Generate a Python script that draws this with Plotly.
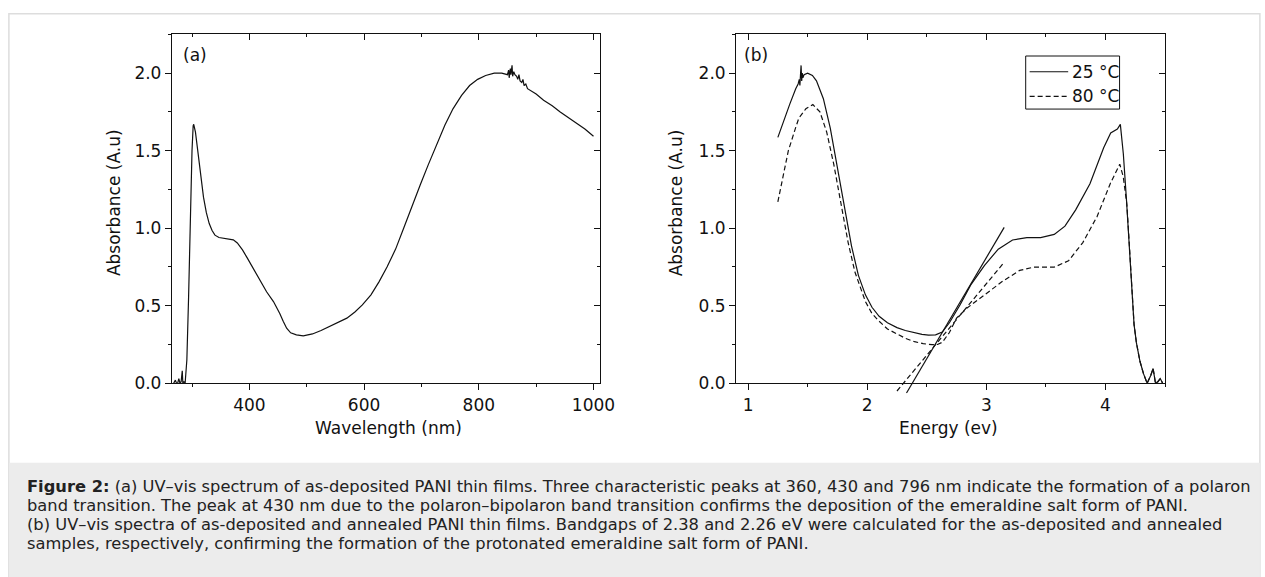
import plotly.graph_objects as go

W, H = 1265, 577

# ---------------- data: panel (a) ----------------
wavelength_nm = [268, 271, 273, 275, 277, 279, 281, 283, 284, 286, 288, 291, 294, 297, 300, 302, 303,
                 306, 310, 315, 320, 325, 330, 335, 340, 347, 355, 365, 372, 379, 388, 396, 408,
                 419, 430, 442, 448, 453, 459, 465, 472, 482, 494, 510, 525, 540, 555, 570, 584,
                 597, 612, 626, 640, 655, 669, 683, 698, 712, 727, 741, 755, 770, 784, 798, 812,
                 827, 840, 850, 852, 853, 855, 856, 858, 859, 861, 863, 866, 868, 870, 872, 875,
                 877, 879, 882, 885, 890, 900, 913, 928, 942, 956, 971, 985, 1000]
absorbance_a = [0.00, 0.02, 0.00, 0.00, 0.03, 0.00, 0.01, 0.08, 0.00, 0.01, 0.00, 0.15, 0.55, 1.05, 1.50, 1.66, 1.67,
                1.62, 1.50, 1.34, 1.20, 1.10, 1.03, 0.985, 0.955, 0.94, 0.935, 0.93, 0.925, 0.905, 0.86, 0.81, 0.73,
                0.655, 0.59, 0.527, 0.49, 0.45, 0.40, 0.355, 0.325, 0.312, 0.306, 0.318, 0.34, 0.365, 0.39, 0.42, 0.46,
                0.505, 0.57, 0.654, 0.75, 0.865, 1.00, 1.14, 1.28, 1.41, 1.545, 1.665, 1.77, 1.857, 1.92, 1.96, 1.985,
                2.00, 2.00, 1.99, 2.02, 1.97, 2.03, 1.99, 2.05, 1.98, 2.01, 1.99, 1.98, 1.96, 1.99, 1.95, 1.94,
                1.96, 1.92, 1.93, 1.90, 1.89, 1.865, 1.825, 1.79, 1.75, 1.715, 1.677, 1.64, 1.593]

# ---------------- data: panel (b) ----------------
energy_25 = [1.25, 1.30, 1.35, 1.40, 1.42, 1.43, 1.435, 1.44, 1.445, 1.45, 1.455, 1.46, 1.47, 1.50, 1.54,
             1.574, 1.632, 1.69, 1.75, 1.81, 1.868, 1.926, 1.985, 2.04, 2.10, 2.17, 2.25, 2.32, 2.397, 2.46,
             2.515, 2.574, 2.63, 2.69, 2.78, 2.868, 2.985, 3.10, 3.22, 3.34, 3.456, 3.57, 3.66, 3.75, 3.87,
             3.985, 4.044, 4.07, 4.10, 4.125, 4.15, 4.175, 4.20, 4.22, 4.24, 4.26, 4.29, 4.32, 4.35, 4.38,
             4.40, 4.42, 4.44, 4.46, 4.48]
abs_25 = [1.586, 1.70, 1.80, 1.90, 1.93, 1.96, 1.92, 1.99, 2.05, 1.95, 2.00, 1.97, 1.99, 2.00, 1.985,
          1.95, 1.835, 1.646, 1.39, 1.14, 0.886, 0.696, 0.57, 0.49, 0.432, 0.39, 0.359, 0.34, 0.325, 0.315,
          0.31, 0.312, 0.33, 0.39, 0.506, 0.633, 0.76, 0.865, 0.924, 0.939, 0.939, 0.96, 1.013, 1.118, 1.287,
          1.519, 1.614, 1.625, 1.64, 1.67, 1.48, 1.20, 0.90, 0.60, 0.38, 0.26, 0.14, 0.06, 0.00, 0.05,
          0.095, 0.00, 0.01, 0.03, 0.00]

energy_80 = [1.25, 1.338, 1.40, 1.426, 1.485, 1.544, 1.603, 1.66, 1.72, 1.78, 1.84, 1.897, 1.985, 2.04,
             2.10, 2.17, 2.25, 2.32, 2.397, 2.47, 2.544, 2.59, 2.63, 2.69, 2.75, 2.838, 2.985, 3.13, 3.28,
             3.40, 3.57, 3.69, 3.81, 3.93, 4.04, 4.09, 4.12, 4.15, 4.18, 4.20, 4.22, 4.24, 4.26, 4.29,
             4.32, 4.35, 4.38, 4.40, 4.42, 4.44, 4.46, 4.48]
abs_80 = [1.17, 1.50, 1.65, 1.71, 1.77, 1.797, 1.75, 1.62, 1.41, 1.16, 0.907, 0.717, 0.527, 0.45,
          0.40, 0.35, 0.316, 0.29, 0.268, 0.255, 0.249, 0.25, 0.264, 0.327, 0.42, 0.485, 0.57, 0.654, 0.728,
          0.749, 0.749, 0.79, 0.907, 1.076, 1.287, 1.37, 1.413, 1.33, 1.15, 0.90, 0.60, 0.38, 0.26, 0.14,
          0.06, 0.00, 0.05, 0.095, 0.00, 0.01, 0.03, 0.00]

tangent_25_E = [2.33, 3.15]
tangent_25_A = [-0.063, 1.005]
tangent_80_E = [2.25, 3.15]
tangent_80_A = [-0.05, 0.78]

series_names = ["25 °C", "80 °C"]
x_ticks_a = [400, 600, 800, 1000]
x_ticks_b = [1, 2, 3, 4]
y_ticks = [0.0, 0.5, 1.0, 1.5, 2.0]

# ---------------- layout geometry (pixels) ----------------
def fx(px):
    return px / W

def fy(py):
    return 1 - py / H

TOP, BOT = 35, 390
A_L, A_R = 174, 607
B_L, B_R = 745, 1179
Y_RANGE = [0, 2.25]
XA_RANGE = [265, 1011]
XB_RANGE = [0.9, 4.5]
px_per_unit = (BOT - TOP) / (Y_RANGE[1] - Y_RANGE[0])
EXT = 0.1  # extra room below zero for the tangent lines

FONT = "DejaVu Sans, Liberation Sans, Arial, sans-serif"
LC = "#111111"
LW = 1.2
FS = 17
CAP_FS = 16.3
DASH = "5px,3px"

fig = go.Figure()

fig.add_trace(go.Scatter(x=wavelength_nm, y=absorbance_a, mode="lines",
                         line=dict(color=LC, width=LW), xaxis="x", yaxis="y",
                         showlegend=False, hoverinfo="skip"))
fig.add_trace(go.Scatter(x=energy_25, y=abs_25, mode="lines", name=series_names[0],
                         line=dict(color=LC, width=LW), xaxis="x2", yaxis="y2",
                         showlegend=False, hoverinfo="skip"))
fig.add_trace(go.Scatter(x=energy_80, y=abs_80, mode="lines", name=series_names[1],
                         line=dict(color=LC, width=LW, dash=DASH), xaxis="x2", yaxis="y2",
                         showlegend=False, hoverinfo="skip"))
# mirror axes (top / right, inward ticks)
fig.add_trace(go.Scatter(x=[None], y=[None], xaxis="x3", yaxis="y3", showlegend=False, hoverinfo="skip"))
fig.add_trace(go.Scatter(x=[None], y=[None], xaxis="x4", yaxis="y4", showlegend=False, hoverinfo="skip"))
# tangent lines (extend a bit below the axis)
fig.add_trace(go.Scatter(x=tangent_25_E, y=tangent_25_A, mode="lines",
                         line=dict(color=LC, width=LW), xaxis="x5", yaxis="y5",
                         showlegend=False, hoverinfo="skip"))
fig.add_trace(go.Scatter(x=tangent_80_E, y=tangent_80_A, mode="lines",
                         line=dict(color=LC, width=LW, dash=DASH), xaxis="x5", yaxis="y5",
                         showlegend=False, hoverinfo="skip"))

tickfont = dict(family=FONT, size=FS, color="#111")

def base_axis(**kw):
    d = dict(showgrid=False, zeroline=False, showline=True, linecolor=LC, linewidth=LW,
             ticks="outside", ticklen=6, tickwidth=LW, tickcolor=LC, tickfont=tickfont)
    d.update(kw)
    return d

def mirror_axis(**kw):
    d = dict(showgrid=False, zeroline=False, showline=True, linecolor=LC, linewidth=LW,
             ticks="inside", ticklen=6, tickwidth=LW, tickcolor=LC, showticklabels=False)
    d.update(kw)
    return d

def minor(dt, where):
    return dict(dtick=dt, tick0=0, ticks=where, ticklen=3, tickwidth=LW, tickcolor=LC)

ydom = [fy(BOT), fy(TOP)]

fig.update_layout(
    width=W, height=H,
    margin=dict(l=0, r=0, t=0, b=0),
    paper_bgcolor="white", plot_bgcolor="rgba(0,0,0,0)",
    font=dict(family=FONT, color="#111"),
    showlegend=False,
    xaxis=base_axis(domain=[fx(A_L), fx(A_R)], anchor="y", range=XA_RANGE,
                    tickvals=x_ticks_a, minor=minor(100, "outside")),
    yaxis=base_axis(domain=ydom, anchor="x", range=Y_RANGE, tickvals=y_ticks, tickformat=".1f",
                    minor=minor(0.25, "outside")),
    xaxis2=base_axis(domain=[fx(B_L), fx(B_R)], anchor="y2", range=XB_RANGE,
                     tickvals=x_ticks_b, minor=minor(0.5, "outside")),
    yaxis2=base_axis(domain=ydom, anchor="x2", range=Y_RANGE, tickvals=y_ticks, tickformat=".1f",
                     minor=minor(0.25, "outside")),
    xaxis3=mirror_axis(overlaying="x", side="top", anchor="y3", range=XA_RANGE, tickvals=x_ticks_a,
                       minor=minor(100, "inside")),
    yaxis3=mirror_axis(overlaying="y", side="right", anchor="x3", range=Y_RANGE, tickvals=y_ticks,
                       minor=minor(0.25, "inside")),
    xaxis4=mirror_axis(overlaying="x2", side="top", anchor="y4", range=XB_RANGE, tickvals=x_ticks_b,
                       minor=minor(0.5, "inside")),
    yaxis4=mirror_axis(overlaying="y2", side="right", anchor="x4", range=Y_RANGE, tickvals=y_ticks,
                       minor=minor(0.25, "inside")),
    xaxis5=dict(domain=[fx(B_L), fx(B_R)], anchor="y5", range=XB_RANGE, visible=False),
    yaxis5=dict(domain=[fy(BOT + EXT * px_per_unit), fy(TOP)], anchor="x5",
                range=[Y_RANGE[0] - EXT, Y_RANGE[1]], visible=False),
)

# legend geometry (pixels)
LEG_L, LEG_R, LEG_T, LEG_B = 1038, 1133, 57, 111
LEG_ROWS = [73, 98]
LEG_LINE = (1042, 1081)

shapes = [
    # outer frame
    dict(type="rect", xref="paper", yref="paper", x0=fx(9), x1=fx(1275), y0=fy(600), y1=fy(14),
         line=dict(color="#dddddd", width=1.5), fillcolor="rgba(0,0,0,0)", layer="below"),
    # caption box
    dict(type="rect", xref="paper", yref="paper", x0=fx(9.5), x1=fx(1275), y0=fy(600), y1=fy(471),
         line=dict(width=0), fillcolor="#ececec", layer="below"),
    # legend box
    dict(type="rect", xref="paper", yref="paper", x0=fx(LEG_L), x1=fx(LEG_R), y0=fy(LEG_B), y1=fy(LEG_T),
         line=dict(color=LC, width=1), fillcolor="white", layer="above"),
]
for i, row in enumerate(LEG_ROWS):
    shapes.append(dict(type="line", xref="paper", yref="paper",
                       x0=fx(LEG_LINE[0]), x1=fx(LEG_LINE[1]), y0=fy(row), y1=fy(row),
                       line=dict(color=LC, width=LW, dash="solid" if i == 0 else DASH)))
fig.update_layout(shapes=shapes)

annotations = [
    dict(text="(a)", x=fx(183), y=fy(56), xanchor="left", yanchor="middle"),
    dict(text="(b)", x=fx(751), y=fy(56), xanchor="left", yanchor="middle"),
    dict(text="Absorbance (A.u)", x=fx(116), y=fy(206), textangle=-90, xanchor="center", yanchor="middle"),
    dict(text="Absorbance (A.u)", x=fx(685), y=fy(206), textangle=-90, xanchor="center", yanchor="middle"),
    dict(text="Wavelength (nm)", x=fx(393), y=fy(436), xanchor="center", yanchor="middle"),
    dict(text="Energy (ev)", x=fx(960), y=fy(436), xanchor="center", yanchor="middle"),
]
for row, name in zip(LEG_ROWS, series_names):
    annotations.append(dict(text=name, x=fx(1083), y=fy(row), xanchor="left", yanchor="middle"))
for a in annotations:
    a.update(xref="paper", yref="paper", showarrow=False,
             font=dict(family=FONT, size=FS, color="#111"))

caption_lines = [
    "<b>Figure 2:</b> (a) UV–vis spectrum of as-deposited PANI thin films. Three characteristic peaks at 360, 430 and 796 nm indicate the formation of a polaron",
    "band transition. The peak at 430 nm due to the polaron–bipolaron band transition confirms the deposition of the emeraldine salt form of PANI.",
    "(b) UV–vis spectra of as-deposited and annealed PANI thin films. Bandgaps of 2.38 and 2.26 eV were calculated for the as-deposited and annealed",
    "samples, respectively, confirming the formation of the protonated emeraldine salt form of PANI.",
]
cap_y = [495, 514.3, 533.6, 553]
for line, yy in zip(caption_lines, cap_y):
    annotations.append(dict(text=line, x=fx(25), y=fy(yy), xref="paper", yref="paper",
                            xanchor="left", yanchor="middle", showarrow=False, align="left",
                            font=dict(family=FONT, size=CAP_FS, color="#222")))

fig.update_layout(annotations=annotations)

fig.write_html("out.html")
